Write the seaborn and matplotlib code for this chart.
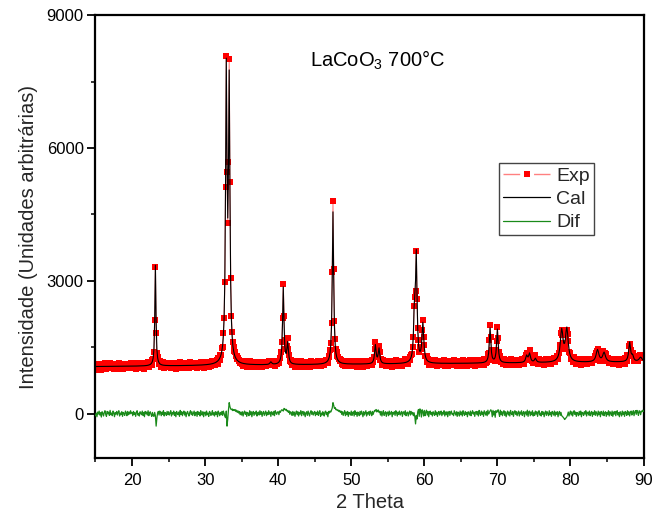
import numpy as np
import pandas as pd
import matplotlib
matplotlib.use("Agg")
import matplotlib.pyplot as plt
from matplotlib.lines import Line2D
from matplotlib.ticker import MultipleLocator
import seaborn as sns

# Scan: 15–90° 2θ in 0.1° steps
theta_start = 15.0
theta_step = 0.1

# Refined reflections of LaCoO3 (700 °C): position (°2θ), net intensity, FWHM (°)
peak_pos = [23.20, 32.90, 33.30, 39.00, 40.70, 41.30, 47.50, 53.30, 53.80,
            58.65, 58.90, 59.80, 69.00, 70.00, 74.00, 74.40, 75.20, 78.80,
            79.50, 83.70, 84.60, 88.10, 88.50, 89.60]
peak_int = [2275, 6430, 6140, 60, 1740, 470, 3445, 420, 340,
            1060, 2345, 880, 785, 755, 150, 200, 90, 705,
            735, 275, 210, 435, 120, 100]
peak_fwhm = [0.18, 0.24, 0.24, 0.30, 0.22, 0.25, 0.23, 0.25, 0.25,
             0.25, 0.25, 0.30, 0.25, 0.25, 0.30, 0.30, 0.30, 0.45,
             0.45, 0.45, 0.45, 0.30, 0.30, 0.50]

# Linear background level at the ends of the scan
bg_start, bg_end = 1065, 1170

# Observed minus calculated counts, one 5° block per list
res_15 = [-45, 15, -68, 38, -8, 60, -30, 22, -75, 45,
          8, -52, 30, 68, -15, -60, 52, 0, 38, -38,
          75, -22, 15, -45, 60, 30, -68, 22, -8, 52,
          -30, 38, 68, -52, 15, -15, 45, -60, 30, 8,
          -38, 60, 22, -45, 52, -22, 38, -8, 68, 15]
res_20 = [30, -45, 52, -15, 22, -60, 38, 68, -30, 8,
          -52, 45, 15, -22, 60, -38, 30, -68, 52, 0,
          38, -30, 68, -45, 22, 45, -15, -60, 30, -38,
          -60, 30, -45, -280, -100, 15, 52, -30, 60, 22,
          -45, 38, -15, 68, -52, 30, 8, -38, 52, -22]
res_25 = [45, -30, 15, 68, -52, 22, -8, 60, -38, 30,
          -68, 52, 8, -22, 38, -60, 75, -15, 45, -45,
          22, 60, -30, 38, -68, 15, 52, -8, -52, 30,
          68, -22, 45, -38, 8, 60, -45, 22, 38, -60,
          52, -15, 30, -52, 68, 0, -30, 45, -68, 22]
res_30 = [38, -45, 60, -22, 15, -60, 52, 30, -38, 8,
          68, -30, 22, -52, 45, -15, 38, -68, 60, 15,
          -45, 30, -22, 52, -38, 60, 8, -60, -90, 60,
          -280, -120, 90, 250, 160, 110, 90, 110, 70, 95,
          70, 95, 50, 80, 30, 65, 15, 50, -22, 38]
res_35 = [-30, 45, -52, 22, 60, -15, 38, -60, 30, 8,
          -45, 68, -22, 45, -68, 15, 52, -38, 30, -8,
          60, -52, 22, 38, -30, 68, -15, 45, -60, 22,
          52, -38, 8, 60, -45, 30, -22, 68, -8, 38,
          -60, 45, 15, -30, 52, -45, 68, 22, -15, 38]
res_40 = [45, -22, 60, 30, 70, 90, 80, 60, 120, 110,
          80, 100, 60, 75, 30, 65, -15, 45, 22, -38,
          52, -30, 38, -60, 15, 60, -22, 45, -52, 30,
          -8, 68, -45, 22, 52, -30, 38, -68, 15, 45,
          -38, 60, 8, -52, 30, 68, -15, 45, -30, 22]
res_45 = [52, -45, 30, -15, 60, -38, 22, 68, -60, 15,
          -30, 45, 8, -52, 38, 60, -22, 30, -68, 52,
          15, 60, 38, 80, 130, 250, 190, 120, 140, 90,
          100, 70, 85, 50, 75, 30, 60, -15, 45, -38,
          22, 68, -45, 38, -22, 52, -60, 30, 15, -30]
res_50 = [60, -38, 22, 45, -52, 68, -15, 30, -60, 38,
          8, -45, 52, -22, 60, 15, -68, 45, -30, 22,
          68, -52, 30, -8, 45, -38, 60, 22, -45, 52,
          -15, 38, 75, 60, 95, 40, 70, 85, 30, 55,
          -30, 52, -52, 22, 68, -38, 15, 45, -60, 30]
res_55 = [38, -45, 60, -22, 15, 52, -68, 30, -8, 45,
          -38, 68, 22, -52, 38, -15, 60, -30, 8, 52,
          -60, 30, 45, -22, 68, -45, 15, 38, -52, 22,
          60, -30, 52, -8, 30, -45, 22, -70, -230, -40,
          -120, 45, 95, -60, 110, 70, -75, 90, 50, -52]
res_60 = [75, -45, 38, 80, -30, 52, -68, 22, 60, -15,
          30, -52, 45, 8, -38, 68, -22, 38, -60, 15,
          52, -30, 22, 60, -45, 30, -8, 68, -52, 38,
          -22, 45, -68, 15, 52, -38, 30, 60, -15, 8,
          -45, 68, 22, -30, 45, -60, 38, 15, -52, 60]
res_65 = [-22, 38, -52, 68, 8, -38, 52, -15, 30, -68,
          45, 15, -30, 60, -45, 22, 68, -8, 38, -60,
          30, 52, -22, 45, -52, 75, 8, -38, 60, -15,
          38, -60, 68, 22, -30, 52, -45, 80, -8, 30,
          60, 90, 55, -68, 75, -30, 52, -80, 70, 30]
res_70 = [50, 90, 22, -60, 80, -22, 52, -45, 30, 68,
          -38, 45, -68, 15, 60, -30, 38, -52, 75, 8,
          -22, 52, -60, 30, 68, -15, 45, -45, 22, 60,
          -52, 38, -8, 68, -38, 15, 52, -68, 30, 45,
          -30, 80, -60, 45, 60, -45, 38, -22, 68, -52]
res_75 = [22, -38, 60, -8, 45, -60, 30, 68, -30, 15,
          -52, 52, -15, 38, -68, 22, 60, -38, 45, 8,
          -45, 68, -22, 30, -60, 52, 15, -30, 60, -52,
          38, -15, 45, -68, 22, 52, -38, 30, -45, -60,
          -80, -100, -130, -115, -90, -70, -30, 38, -52, 15]
res_80 = [60, -30, 45, -52, 22, 68, -15, 38, -60, 30,
          8, -45, 52, -22, 60, -68, 30, 15, -38, 45,
          -8, 68, -52, 22, 38, -30, 60, -45, 15, 52,
          -60, 30, -15, 68, -38, 45, 8, -52, 60, -22,
          38, -68, 52, 15, -30, 60, -45, 22, 45, -60]
res_85 = [30, -22, 68, -52, 45, 15, -38, 60, -60, 38,
          -8, 52, -45, 30, 68, -30, 22, -68, 45, 8,
          -52, 60, -15, 38, -60, 52, 22, -38, 68, -22,
          45, -52, 30, 60, -30, 15, 68, -45, 38, 70,
          -15, 75, 30, -38, 68, 52, -22, 60, 45, 80,
          52]

residual = np.array(res_15 + res_20 + res_25 + res_30 + res_35 + res_40 +
                    res_45 + res_50 + res_55 + res_60 + res_65 + res_70 +
                    res_75 + res_80 + res_85, dtype=float)

two_theta = theta_start + theta_step * np.arange(len(residual))

# Calculated profile: linear background + Lorentzian reflections
span = two_theta[-1] - two_theta[0]
calc = bg_start + (bg_end - bg_start) * (two_theta - two_theta[0]) / span
for p, h, w in zip(peak_pos, peak_int, peak_fwhm):
    calc = calc + h / (1.0 + ((two_theta - p) / (w / 2.0)) ** 2)

observed = calc + residual
difference = observed - calc

df = pd.DataFrame({"two_theta": two_theta, "Exp": observed,
                   "Cal": calc, "Dif": difference})

sns.set_style("ticks")
plt.rcParams["font.family"] = ["Liberation Sans", "DejaVu Sans"]
plt.rcParams["mathtext.fontset"] = "custom"
plt.rcParams["mathtext.rm"] = "Liberation Sans"
plt.rcParams["mathtext.it"] = "Liberation Sans:italic"
plt.rcParams["mathtext.bf"] = "Liberation Sans:bold"

fig = plt.figure(figsize=(6.54, 5.18), dpi=100)
ax = fig.add_axes([0.146, 0.1158, 0.838, 0.855])

exp_color = "#ff0000"
exp_line = "#ff8080"
cal_color = "#000000"
dif_color = "#1a8a1a"

sns.lineplot(data=df, x="two_theta", y="Exp", ax=ax, estimator=None,
             sort=False, color=exp_line, lw=0.8, marker="s", ms=4.2,
             mfc=exp_color, mec=exp_color, mew=0, zorder=2)
sns.lineplot(data=df, x="two_theta", y="Cal", ax=ax, estimator=None,
             sort=False, color=cal_color, lw=0.8, zorder=3)
sns.lineplot(data=df, x="two_theta", y="Dif", ax=ax, estimator=None,
             sort=False, color=dif_color, lw=0.9, zorder=3)

ax.set_xlim(15, 90)
ax.set_ylim(-1000, 9000)
ax.xaxis.set_major_locator(MultipleLocator(10))
ax.xaxis.set_minor_locator(MultipleLocator(5))
ax.yaxis.set_major_locator(MultipleLocator(3000))
ax.yaxis.set_minor_locator(MultipleLocator(1500))

ax.tick_params(which="major", direction="out", length=5.5, width=1.3,
               labelsize=12, pad=3, colors="black")
ax.tick_params(which="minor", direction="out", length=3.2, width=1.3)
ax.tick_params(axis="x", which="major", pad=5)
for s in ax.spines.values():
    s.set_visible(True)
    s.set_linewidth(1.6)
    s.set_color("black")

ax.set_xlabel("2 Theta", fontsize=14.5, labelpad=4)
ax.set_ylabel("Intensidade (Unidades arbitrárias)", fontsize=14.5, labelpad=6)

ax.text(44.3, 7830, "LaCoO$_3$ 700°C", fontsize=14.5, ha="left",
        va="baseline", color="black")

handles = [
    Line2D([], [], color=exp_line, lw=1.0, ls=(0, (12, 10)), marker="s",
           ms=4, mfc=exp_color, mec=exp_color, mew=0),
    Line2D([], [], color=cal_color, lw=0.9),
    Line2D([], [], color=dif_color, lw=0.9),
]
leg = ax.legend(handles, ["Exp", "Cal", "Dif"], loc="upper left",
                bbox_to_anchor=(0.736, 0.666), borderaxespad=0,
                fontsize=14, frameon=True, fancybox=False, framealpha=1,
                edgecolor="#444444", borderpad=0.2, handlelength=2.45,
                handletextpad=0.3, labelspacing=0.3, numpoints=1)
leg.get_frame().set_linewidth(1.0)

fig.savefig("out.png", dpi=100)
